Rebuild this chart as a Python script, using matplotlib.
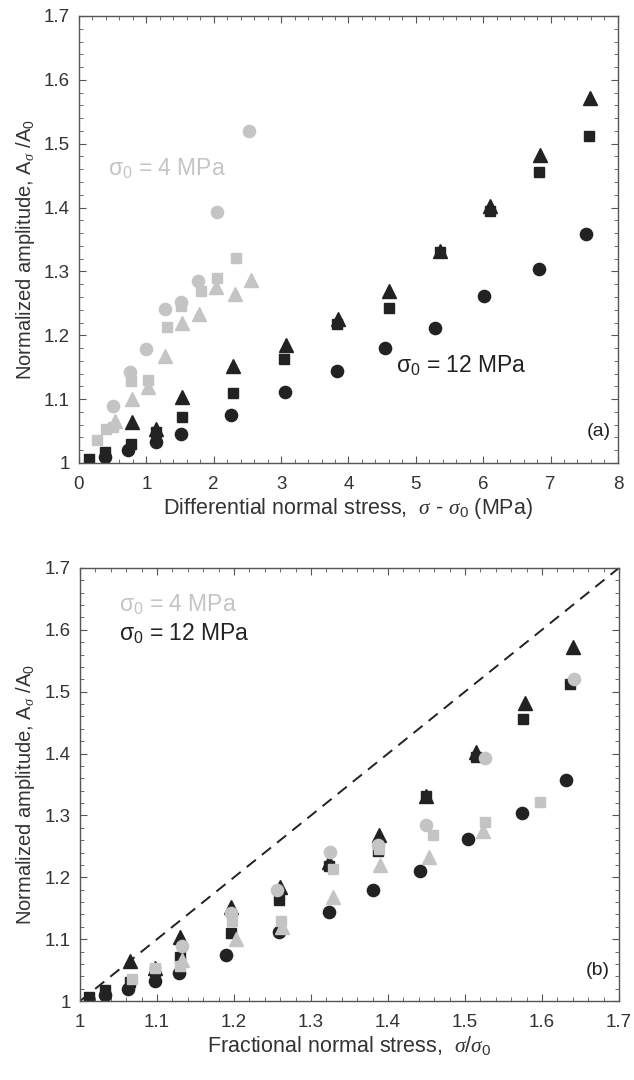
import numpy as np
import matplotlib
matplotlib.use("Agg")
import matplotlib.pyplot as plt
from matplotlib.ticker import MultipleLocator

plt.rcParams['font.family'] = ['Liberation Sans', 'DejaVu Sans']
plt.rcParams['mathtext.fontset'] = 'custom'
plt.rcParams['mathtext.rm'] = 'Liberation Sans'
plt.rcParams['mathtext.it'] = 'Liberation Serif:italic'
plt.rcParams['mathtext.bf'] = 'Liberation Sans:bold'

GREY = '#c4c4c4'
BLACK = '#222222'
TXT = '#333333'

# panel (a): differential normal stress (MPa) vs normalized amplitude
g4_circ_x = [0.51, 0.76, 1.00, 1.28, 1.52, 1.77, 2.05, 2.53]
g4_circ_y = [1.089, 1.142, 1.179, 1.241, 1.252, 1.285, 1.393, 1.520]
g4_sq_x = [0.26, 0.40, 0.50, 0.77, 1.03, 1.30, 1.52, 1.81, 2.05, 2.33]
g4_sq_y = [1.036, 1.054, 1.056, 1.129, 1.130, 1.213, 1.246, 1.269, 1.289, 1.321]
g4_tri_x = [0.53, 0.78, 1.03, 1.28, 1.53, 1.78, 2.04, 2.32, 2.56]
g4_tri_y = [1.066, 1.100, 1.119, 1.168, 1.220, 1.233, 1.275, 1.265, 1.286]

b12_circ_x = [0.38, 0.73, 1.14, 1.52, 2.26, 3.06, 3.83, 4.54, 5.29, 6.01, 6.83, 7.53]
b12_circ_y = [1.010, 1.020, 1.033, 1.046, 1.075, 1.111, 1.144, 1.180, 1.211, 1.262, 1.304, 1.358]
b12_sq_x = [0.15, 0.39, 0.77, 1.15, 1.53, 2.29, 3.05, 3.83, 4.60, 5.36, 6.10, 6.83, 7.57]
b12_sq_y = [1.006, 1.018, 1.030, 1.048, 1.072, 1.110, 1.163, 1.218, 1.243, 1.331, 1.395, 1.456, 1.512]
b12_tri_x = [0.78, 1.15, 1.53, 2.29, 3.08, 3.84, 4.60, 5.36, 6.10, 6.84, 7.59]
b12_tri_y = [1.064, 1.054, 1.103, 1.152, 1.184, 1.225, 1.269, 1.332, 1.402, 1.482, 1.572]

# panel (b): fractional normal stress
b12_circ_f = [1.032, 1.062, 1.097, 1.128, 1.190, 1.259, 1.323, 1.380, 1.442, 1.504, 1.574, 1.631]
b12_sq_f = [1.012, 1.033, 1.065, 1.098, 1.130, 1.196, 1.258, 1.324, 1.387, 1.450, 1.514, 1.575, 1.636]
b12_tri_f = [1.065, 1.098, 1.130, 1.196, 1.260, 1.324, 1.389, 1.450, 1.514, 1.578, 1.640]
g4_circ_f = [1.132, 1.196, 1.256, 1.325, 1.387, 1.450, 1.526, 1.642]
g4_sq_f = [1.067, 1.098, 1.130, 1.198, 1.261, 1.329, 1.389, 1.459, 1.526, 1.598]
g4_tri_f = [1.133, 1.203, 1.262, 1.328, 1.390, 1.453, 1.523]

fig = plt.figure(figsize=(6.34, 10.8), dpi=100)
ax1 = fig.add_axes([0.1246, 0.5713, 0.850, 0.4139])
ax2 = fig.add_axes([0.1262, 0.0731, 0.850, 0.4010])

ms_c, ms_s, ms_t = 8.8, 7.4, 9.8
ylab = r'Normalized amplitude, A$_{\sigma}$ /A$_0$'


def style(ax):
    for sp in ax.spines.values():
        sp.set_color('#555555')
        sp.set_linewidth(1.0)
    ax.tick_params(which='both', direction='in', top=True, right=True,
                   color='#555555', labelcolor=TXT, labelsize=13.5)
    ax.tick_params(which='major', length=5)
    ax.tick_params(which='minor', length=3)
    ax.tick_params(axis='x', which='major', pad=9.5)
    ax.tick_params(axis='y', which='major', pad=6.5)


def pts(ax, x, y, mk, ms, c):
    ax.plot(x, y, linestyle='none', marker=mk, markersize=ms, color=c,
            markeredgecolor=c)


def fmt(v, pos):
    return '1' if abs(v - 1.0) < 1e-9 else '%.1f' % v


# (a)
pts(ax1, b12_sq_x, b12_sq_y, 's', ms_s, BLACK)
pts(ax1, b12_circ_x, b12_circ_y, 'o', ms_c, BLACK)
pts(ax1, b12_tri_x, b12_tri_y, '^', ms_t, BLACK)
pts(ax1, g4_circ_x, g4_circ_y, 'o', ms_c, GREY)
pts(ax1, g4_sq_x, g4_sq_y, 's', ms_s, GREY)
pts(ax1, g4_tri_x, g4_tri_y, '^', ms_t, GREY)
ax1.set_xlim(0, 8)
ax1.set_ylim(1.0, 1.7)
ax1.xaxis.set_major_locator(MultipleLocator(1))
ax1.xaxis.set_minor_locator(MultipleLocator(0.2))
ax1.yaxis.set_major_locator(MultipleLocator(0.1))
ax1.yaxis.set_minor_locator(MultipleLocator(0.02))
ax1.yaxis.set_major_formatter(plt.FuncFormatter(fmt))
ax1.xaxis.set_major_formatter(plt.FuncFormatter(lambda v, p: '%d' % round(v)))
style(ax1)
ax1.set_xlabel(r'Differential normal stress,  $\sigma$ - $\sigma_0$ (MPa)',
               fontsize=15.5, color=TXT, labelpad=2)
ax1.set_ylabel(ylab, fontsize=14.5, color=TXT)
ax1.yaxis.set_label_coords(-0.078, 0.4765)
ax1.text(0.43, 1.46, 'σ$_0$ = 4 MPa', color=GREY, fontsize=16.5, va='center')
ax1.text(4.71, 1.152, 'σ$_0$ = 12 MPa', color=BLACK, fontsize=16.5, va='center')
ax1.text(7.9, 1.05, '(a)', color=BLACK, fontsize=14, ha='right', va='center')

# (b)
ax2.plot([1.0, 1.7], [1.0, 1.7], linestyle=(0, (6, 4)), color=BLACK, linewidth=1.4)
pts(ax2, b12_sq_f, b12_sq_y, 's', ms_s, BLACK)
pts(ax2, b12_circ_f, b12_circ_y, 'o', ms_c, BLACK)
pts(ax2, b12_tri_f, b12_tri_y, '^', ms_t, BLACK)
pts(ax2, g4_circ_f, g4_circ_y, 'o', ms_c, GREY)
pts(ax2, g4_sq_f, g4_sq_y, 's', ms_s, GREY)
pts(ax2, g4_tri_f, g4_tri_y[:len(g4_tri_f)], '^', ms_t, GREY)
ax2.set_xlim(1.0, 1.7)
ax2.set_ylim(1.0, 1.7)
ax2.xaxis.set_major_locator(MultipleLocator(0.1))
ax2.xaxis.set_minor_locator(MultipleLocator(0.02))
ax2.yaxis.set_major_locator(MultipleLocator(0.1))
ax2.yaxis.set_minor_locator(MultipleLocator(0.02))
ax2.yaxis.set_major_formatter(plt.FuncFormatter(fmt))
ax2.xaxis.set_major_formatter(plt.FuncFormatter(fmt))
style(ax2)
ax2.set_xlabel(r'Fractional normal stress,  $\sigma/\sigma_0$', fontsize=15.5,
               color=TXT, labelpad=2)
ax2.set_ylabel(ylab, fontsize=14.5, color=TXT)
ax2.yaxis.set_label_coords(-0.080, 0.477)
ax2.text(1.05, 1.64, 'σ$_0$ = 4 MPa', color=GREY, fontsize=16.5, va='center')
ax2.text(1.05, 1.594, 'σ$_0$ = 12 MPa', color=BLACK, fontsize=16.5, va='center')
ax2.text(1.688, 1.05, '(b)', color=BLACK, fontsize=14, ha='right', va='center')

fig.savefig('out.png', dpi=100)
